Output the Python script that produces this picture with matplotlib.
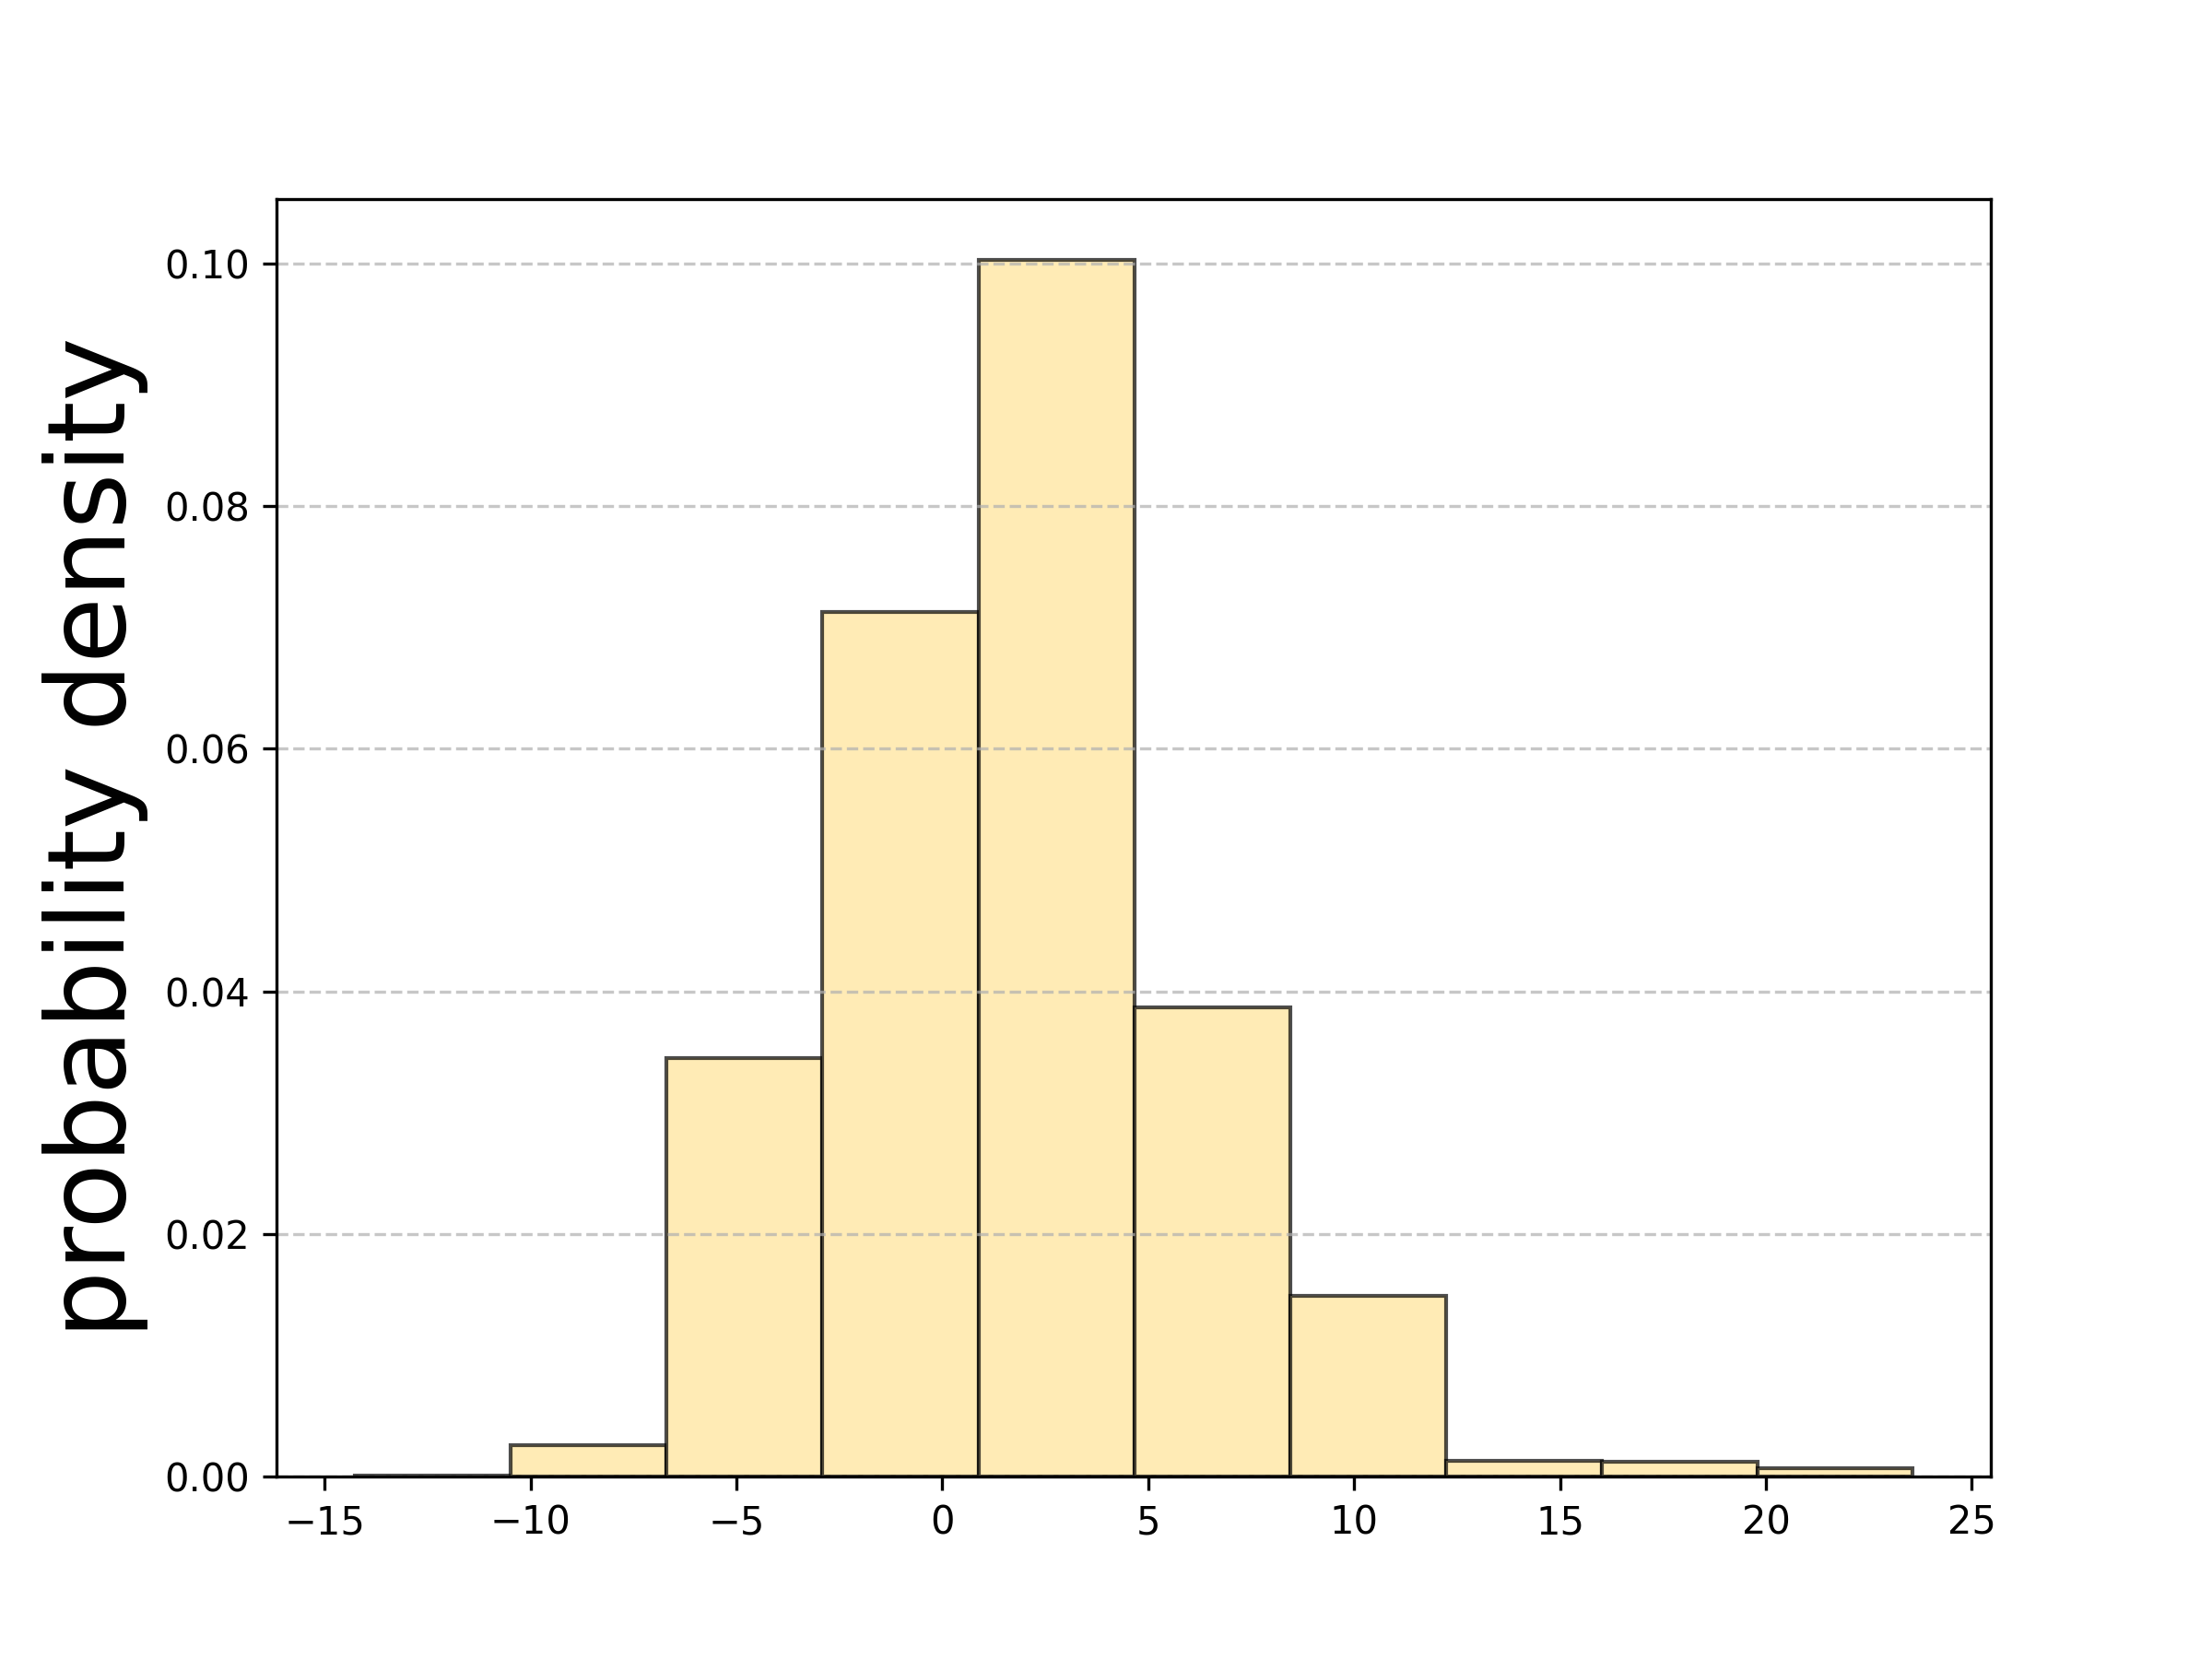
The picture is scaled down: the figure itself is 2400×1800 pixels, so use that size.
import matplotlib
matplotlib.use("Agg")
import matplotlib.pyplot as plt
import numpy as np

bin_edges = [-14.28, -10.49, -6.70, -2.91, 0.88, 4.66, 8.45, 12.24, 16.02, 19.80, 23.57]
densities = [0.0001, 0.0026, 0.0345, 0.0713, 0.1003, 0.0387, 0.0149, 0.0013, 0.0012, 0.0007]
y_label = "probability density"

edges = np.array(bin_edges)
widths = np.diff(edges)

fig, ax = plt.subplots(figsize=(8, 6), dpi=300)
ax.bar(edges[:-1], densities, width=widths, align="edge",
       facecolor=(1.0, 0.922, 0.71, 1.0), edgecolor=(0, 0, 0, 0.7), linewidth=1.0)
ax.grid(axis="y", linestyle="--", alpha=0.7)
ax.set_ylabel(y_label, fontsize=28)
fig.savefig("out.png", dpi=300)
